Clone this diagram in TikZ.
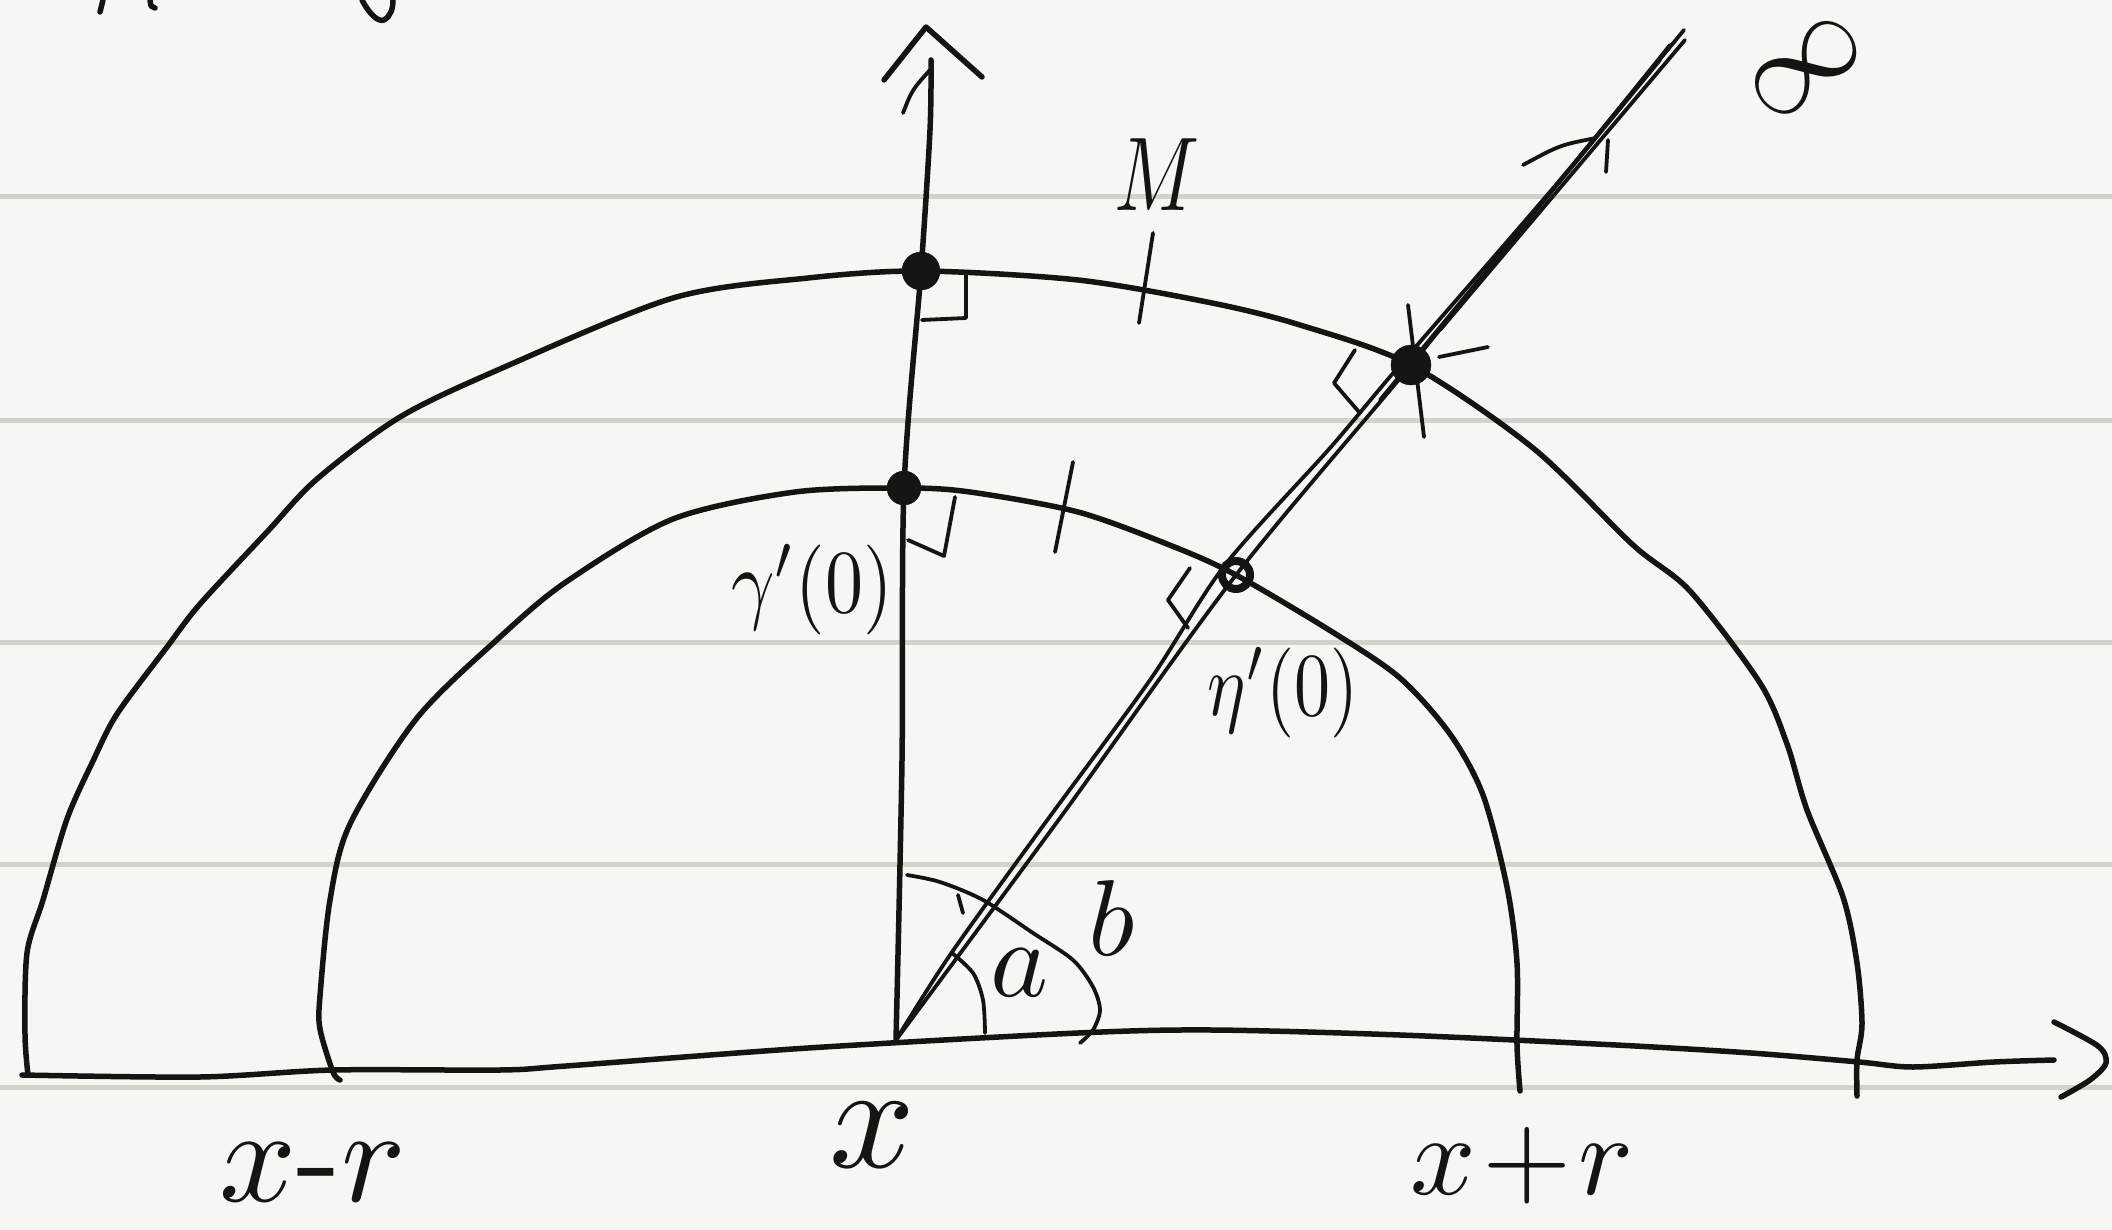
\documentclass[tikz,border=0pt]{standalone}
\definecolor{paper}{HTML}{F6F7F2}
\definecolor{rulec}{HTML}{D3D3CC}
\definecolor{ink}{HTML}{141414}
\tikzset{
 ink/.style={draw=ink, line width=5.5pt, line cap=round, line join=round},
 thinink/.style={draw=ink, line width=3.8pt, line cap=round, line join=round},
 ruled/.style={draw=rulec, line width=5pt},
 dotfill/.style={circle, fill=ink, draw=ink, inner sep=0pt, minimum size=34pt},
 ringdot/.style={circle, draw=ink, line width=8pt, inner sep=0pt, minimum size=28pt},
 lab/.style={text=ink, inner sep=0pt},
}
\begin{document}
\begin{tikzpicture}[x=1pt,y=-1pt]
\fill[paper] (0,0) rectangle (2112,1230);
\useasboundingbox (0,0) rectangle (2112,1230);
\foreach \yy in {197,420,642,864,1087} \draw[ruled] (0,\yy) -- (2112,\yy);

% cut-off fragments at the top
\draw[ink] (103,0) -- (100,12);
\draw[ink] (150,0) -- (151,6) -- (155,8);
\draw[ink] (362,0) .. controls (370,15) and (378,22) .. (384,20) .. controls (391,16) and (393,8) .. (393,0);

% points
\coordinate (O) at (896,1040);
\node[dotfill, minimum size=38pt] (G1) at (921,271) {};
\node[dotfill] (G0) at (904,488) {};
\node[ringdot] (E0) at (1236,575) {};
\node[dotfill, minimum size=40pt] (E1) at (1411,365) {};
\coordinate (Xend) at (2054,1060);
\coordinate (Ytop) at (931,60);
\coordinate (Rtop) at (1684,30);

% horizontal axis
\draw[ink] plot[smooth] coordinates {(22,1075) (200,1077) (333,1070) (500,1070) (566,1066) (808,1048) (1078,1033) (1212,1030) (1400,1035) (1616,1045) (1751,1053) (1859,1062) (1913,1067) (1994,1062) (Xend)};
\draw[ink] plot[smooth] coordinates {(2054,1022) (2098,1046) (2106,1063) (2090,1080) (2061,1097)};

% vertical axis
\draw[ink] plot[smooth] coordinates {(O) (902,760) (G0.center) (G1.center) (930,130) (Ytop)};
\draw[ink] (884,80) -- (926,27) -- (982,77);
\draw[thinink] (903,113) .. controls (912,90) .. (930,70);

% ray to infinity
\draw[thinink] plot[smooth] coordinates {(O) (1060,818) (E0.center) (E1.center) (1540,205) (Rtop)};
\draw[thinink] plot[smooth] coordinates {(O) (950,955) (1040,830) (1150,680) (1225,565) (1330,448) (1400,365) (1560,180) (1670,45)};
\draw[thinink] (1380,400) -- (1660,60);
\draw[thinink] (1440,330) -- (1685,40);
\draw[thinink] (1523,165) .. controls (1560,145) .. (1596,138);
\draw[thinink] (1608,140) -- (1606,172);

% inner semicircle
\draw[ink] plot[smooth] coordinates {(340,1080) (333,1072) (320,1029) (320,996) (330,900) (350,824) (417,718) (500,637) (566,582) (673,519) (795,492) (G0.center) (970,492) (1078,512) (1172,546) (E0.center) (1334,633) (1400,678) (1450,734) (1483,795) (1507,887) (1517,963) (1517,1045) (1520,1091)};

% outer semicircle
\draw[ink] plot[smooth] coordinates {(28,1075) (25,1034) (27,953) (43,900) (67,819) (93,761) (117,714) (167,647) (200,604) (267,532) (317,479) (400,417) (500,369) (673,298) (808,278) (G1.center) (1078,280) (1212,303) (1300,325) (E1.center) (1533,448) (1633,545) (1690,591) (1760,683) (1787,744) (1807,810) (1843,897) (1857,963) (1862,1024) (1857,1060) (1857,1096)};

% right angle marks
\draw[thinink] (922,320) -- (966,318) -- (966,272);
\draw[thinink] (908,540) -- (944,556) -- (955,497);
\draw[thinink] (1190,568) -- (1168,600) -- (1188,628);
\draw[thinink] (1355,350) -- (1334,383) -- (1359,412);

% ticks
\draw[thinink] (1153,233) -- (1139,323);
\draw[thinink] (1073,462) -- (1055,552);
\draw[thinink] (1408,305) -- (1424,437);
\draw[thinink] (1439,357) -- (1488,347);

% angle arcs
\draw[thinink] plot[smooth] coordinates {(952,953) (973,973) (983,1000) (985,1033)};
\draw[thinink] plot[smooth] coordinates {(907,875) (940,882) (983,900) (1033,933) (1073,960) (1093,987) (1100,1010) (1093,1030) (1080,1043)};
\draw[thinink] (958,895) -- (963,913);

% labels
\node[lab] (lxr) at (313,1172) {\scalebox{13.5}{$x$-$r$}};
\node[lab] (lx) at (872,1135) {\scalebox{15}{$x$}};
\node[lab] (lxpr) at (1522,1166) {\scalebox{11.5}{$x\!+\!r$}};
\node[lab] (lM) at (1157,175) {\scalebox{7.9}[10.5]{$M$}};
\node[lab] (lg) at (812,590) {\scalebox{7.6}[9]{$\gamma'(0)$}};
\node[lab] (le) at (1283,693) {\scalebox{7.2}[9]{$\eta'(0)$}};
\node[lab] (la) at (1020,973) {\scalebox{11}{$a$}};
\node[lab] (lb) at (1112,918) {\scalebox{10.8}{$b$}};
\node[lab, rotate=38] (linf) at (1806,68) {\scalebox{12.5}{$\infty$}};
\end{tikzpicture}
\end{document}
